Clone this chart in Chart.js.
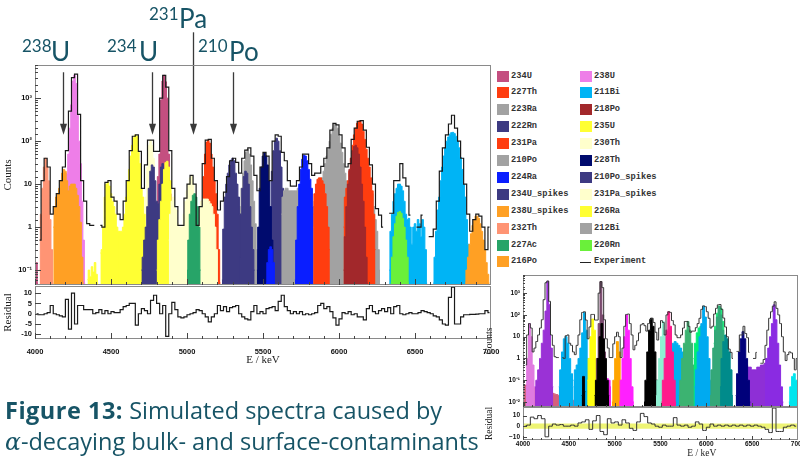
<!DOCTYPE html>
<html>
<head>
<meta charset="utf-8">
<script src="https://cdn.jsdelivr.net/npm/chart.js@4.4.1/dist/chart.umd.min.js"></script>
<style>
  body { margin: 0; width: 800px; height: 457px; overflow: hidden; background: #fff; position: relative; font-family: Lato, sans-serif; }
  canvas { position: absolute; }
  .iso { position: absolute; color: #175466; font-family: Lato, sans-serif; line-height: 1; white-space: nowrap; }
  .iso.big { font-size: 26px; }
  .iso.sup { font-size: 17px; }
  #legend div { position: absolute; font: bold 8.7px "Liberation Mono", monospace; color: #333; white-space: nowrap; }
  #legend .sw { width: 12px; height: 11px; }
  #caption { position: absolute; left: 5px; top: 395px; font-family: "Open Sans", sans-serif; font-size: 23.5px; line-height: 31px; color: #175466; white-space: nowrap; }
  #caption b { letter-spacing: 0.5px; }
</style>
</head>
<body>
<canvas id="main" width="495" height="293" style="left:0;top:0"></canvas>
<canvas id="resid" width="505" height="100" style="left:0;top:276px"></canvas>
<canvas id="insetMain" width="330" height="148" style="left:480px;top:267px"></canvas>
<canvas id="insetResid" width="330" height="58" style="left:480px;top:399px"></canvas>

<div class="iso sup" style="left:22px;top:37px">238</div><div class="iso big" style="left:51px;top:38px">U</div>
<div class="iso sup" style="left:107px;top:37px">234</div><div class="iso big" style="left:139px;top:38px">U</div>
<div class="iso sup" style="left:149px;top:5px">231</div><div class="iso big" style="left:179px;top:5px">Pa</div>
<div class="iso sup" style="left:198px;top:37px">210</div><div class="iso big" style="left:229px;top:38px">Po</div>

<div id="legend"></div>
<div id="caption"><b>Figure 13:</b> Simulated spectra caused by<br><i style="font-family:'DejaVu Serif',serif">α</i>-decaying bulk- and surface-contaminants</div>

<script>
// Legend entries (two columns, as in the ROOT legend)
const legendLeft = ['234U', '227Th', '223Ra', '222Rn', '231Pa', '210Po', '224Ra', '234U_spikes', '238U_spikes', '232Th', '227Ac', '216Po'];
const legendRight = ['238U', '211Bi', '218Po', '235U', '230Th', '228Th', '210Po_spikes', '231Pa_spikes', '226Ra', '212Bi', '220Rn'];

const palette = {
  '234U': '#c44f80', '227Th': '#ff3d0f', '223Ra': '#a2a2a2', '222Rn': '#3d3a82',
  '231Pa': '#ff3d0f', '210Po': '#a2a2a2', '224Ra': '#0a1eff', '234U_spikes': '#3d3a82',
  '238U_spikes': '#ffa024', '232Th': '#ff9474', '227Ac': '#27a468', '216Po': '#ffa024',
  '238U': '#ee7ee8', '211Bi': '#00b4f5', '218Po': '#a2282b', '235U': '#ffff33',
  '230Th': '#ffffcc', '228Th': '#000b6e', '210Po_spikes': '#3d3a82', '231Pa_spikes': '#ffffcc',
  '226Ra': '#ffff33', '212Bi': '#a2a2a2', '220Rn': '#6af03a',
};

// Simulated components, 10 keV bins (centre of first bin + counts), back to front
const compNames = ['234U', '232Th', '238U', '238U_spikes', '235U', '226Ra', '230Th', '235U', '234U', '234U_spikes', '226Ra',
  '231Pa', '230Th', '231Pa_spikes', '227Ac', '210Po', '210Po_spikes', '222Rn', '222Rn', '228Th', '224Ra',
  '223Ra', '224Ra', '223Ra', '227Th', '212Bi', '227Th', '218Po', '211Bi', '220Rn', '211Bi', '216Po'];
const compStart = [4000, 4030, 4200, 4120, 4345, 4430, 4690, 4550, 4800, 4700, 4800,
  5090, 5055, 4880, 5000, 5340, 5230, 5345, 5530, 5460, 5520,
  5620, 5710, 5830, 5830, 6150, 6030, 6030, 6330, 6340, 6620, 6830];
const compCounts = [
  [0.15, 0.15, 0.05],
  [0.1, 2, 8, 25, 40, 25, 12, 1.5, 0.3, 0.05],
  [5, 18, 50, 200, 700, 2500, 3400, 2200, 400, 100, 30, 4, 0.5, 0.05],
  [1, 3, 5, 6, 8, 12, 18, 22, 20, 12, 7, 9, 10, 10, 10, 8, 5.5, 3, 1.3, 0.2, 0.05],
  [0.06, 0.1, 0.07, 0.12, 0.09, 0.15, 0.08, 0.05],
  [0.25, 0.3, 1, 5, 10, 11, 9, 6, 4, 3, 2, 1, 0.8, 0.6, 0.5],
  [0.1, 0.2, 0.4, 1, 5, 25, 80, 105, 80, 40, 12, 4, 1.5, 0.8, 0.5, 0.4, 0.3, 0.3, 0.4, 0.6],
  [0.6, 0.8, 0.8, 1, 2, 5, 12, 22, 45, 80, 120, 138, 130, 55, 30, 8, 5, 2, 0.8, 0.3, 0.1],
  [2, 15, 50, 900, 2500, 3400, 2400, 1000, 50, 6, 0.5, 0.05],
  [0.1, 0.2, 0.5, 1, 3, 8, 20, 28, 25, 12, 4, 3.5, 10, 25, 30, 20, 8, 3, 1, 0.4, 0.2, 0.1],
  [0.1, 0.5, 1.5, 4, 10, 22, 32, 34, 25, 12, 4, 1.2, 0.3, 0.05],
  [0.5, 4, 15, 50, 95, 105, 90, 50, 25, 12, 6, 2, 0.3, 0.05],
  [0.5, 1, 2, 3, 4, 4.5, 4.5, 4.5, 4.5, 4, 3.5, 3, 2, 1, 0.3, 0.05],
  [0.5, 2, 4, 5, 2.8, 2.5, 1.2, 1, 1, 1, 2, 4, 7, 10, 14, 16, 10, 6, 1, 0.8, 1, 0.8],
  [0.1, 0.5, 2, 4, 5.5, 6, 5, 3, 1, 0.1],
  [1, 3, 8, 18, 35, 55, 65, 50, 28, 12, 4, 1.2, 0.3, 0.05],
  [0.06, 0.9, 5, 10, 18, 28, 36, 40, 35, 18, 10, 5, 2, 0.8, 0.3, 0.1, 0.05],
  [0.2, 2, 8, 15, 20, 18, 10, 3, 1, 0.3, 0.1],
  [0.06, 0.5, 3, 20, 60, 100, 117, 100, 60, 25, 8, 1.6, 0.3, 0.06],
  [0.1, 1, 8, 25, 45, 53, 45, 28, 12, 3, 0.5, 0.1],
  [0.05, 0.15, 0.3, 0.35, 0.3, 0.15, 0.05],
  [2, 5, 7, 8, 8, 7, 7, 7, 7, 7, 7, 8, 8, 6, 4, 2, 1, 0.5],
  [0.06, 0.5, 3, 10, 22, 38, 47, 45, 35, 22, 13, 8, 3, 1, 0.2, 0.05],
  [1, 4, 6, 7, 8, 10, 14, 20, 30, 45, 65, 100, 145, 200, 250, 245, 200, 130, 90, 55, 30, 18, 12, 8, 3, 0.5],
  [2, 6, 10, 13, 14, 14, 12, 10, 6, 3, 1, 0.3],
  [2, 5, 8, 10, 10, 10, 9, 6, 3, 1.5, 0.8, 0.3, 0.1],
  [1, 5, 8, 12, 20, 40, 80, 140, 200, 260, 290, 300, 250, 170, 110, 65, 40, 25, 14, 7, 2, 0.3],
  [0.1, 0.6, 3, 10, 22, 40, 60, 75, 80, 70, 50, 25, 10, 4, 1, 0.2, 0.05],
  [0.1, 0.8, 2, 4, 6, 8, 10, 10, 9, 7, 4, 2, 1.5, 1.6, 1, 0.4, 1, 1.2, 0.8, 1.5, 1.2, 0.6, 1.5, 1, 0.3, 0.05],
  [0.05, 0.2, 0.6, 1.2, 1.8, 2.2, 2.3, 2.1, 1.6, 1, 0.5, 0.2, 0.05],
  [0.05, 0.2, 0.8, 2.5, 5, 12, 25, 45, 70, 100, 125, 145, 158, 160, 150, 130, 100, 70, 42, 22, 10, 5, 1.5, 0.4, 0.1],
  [0.05, 0.1, 0.2, 0.4, 0.7, 1.1, 1.5, 1.8, 1.8, 1.6, 1.2, 0.8, 0.5, 0.3, 0.15, 0.08, 0.05],
];

// Measured spectrum, 20 keV bins from 4000 keV (first bin centre 4010)
const expStart = 4010;
const expCounts = [
  0, 0.5, 12, 40, 25, 2, 3, 6, 12, 25,
  60, 500, 3000, 3600, 420, 12, 4, 1.2, 1.1, 1.1,
  0, 1.1, 1, 11, 12, 5, 4, 2, 1.5, 4,
  12, 60, 130, 140, 58, 8, 28, 105, 105, 58,
  58, 1000, 3400, 1800, 60, 8, 3, 1.1, 1.1, 4.7,
  10, 16, 10, 1.1, 3, 30, 105, 110, 40, 12,
  2.5, 4, 6.5, 15, 35, 40, 32, 18, 40, 62,
  70, 45, 16, 7, 25, 55, 45, 12, 100, 140,
  130, 55, 35, 12, 9, 9, 12, 25, 50, 50,
  30, 16, 18, 18, 26, 40, 70, 180, 260, 240,
  140, 70, 25, 30, 110, 200, 290, 300, 180, 72,
  28, 10, 2.7, 1.9, 1, 0, 2.1, 2.1, 12, 12,
  30, 14, 9, 1.9, 0, 1, 1, 1.9, 0, 0.6,
  0.6, 0.9, 4, 20, 70, 140, 250, 400, 200, 100,
  40, 10, 2, 0.8, 1.5, 2, 1.8, 1, 0.3, 1,
];
const residMain = [
  0, -0.5, -0.5, 0, 0.5, 4, 0, -0.5, -1, -1.5,
  7, -7.5, 10, -5, 4, 4, 2, 2, 2, 0,
  0.5, 2, 0, 1.5, 0, 1, 0.5, 0.5, 2, 3.5,
  4, 5, 5, -5.5, 0, 2.5, 1.5, 0, 6.5, 9,
  5, 0, 4, -11, 0, 5.5, 2, -1.5, -2, -1.5,
  -0.5, 0, 0.5, 2, 1.5, 0, -1.5, -4, -1.5, 0,
  4, 1.5, 3.5, 1, 3, 3.5, 4, 0, -1.5, -2.5,
  -3, 1, 4, 0, 1, 0, 2.5, 3, 3.5, 1.5,
  6, 9, 3.5, 1.5, 0, 1, 0, 1, -0.5, 0,
  -0.5, 0, 0.5, 4, 5, 2.5, 3.5, 1, -2, -5.5,
  -2.5, 0.5, 0, 1, -0.5, 0, -1.5, -1.5, -3, 2.5,
  4, 1, 0, 1.5, 2.5, 1, 3, 0, 3.5, 4,
  0, -0.5, 0, 0.5, 0, 0, 0.5, 1.5, 1, 0.5,
  0, -1, -1.5, -3, -5, -5.5, 8, 13, -5, -5,
  -1.5, -0.5, -0.5, -0.3, -0.3, -0.2, 0, 0, 1.5, 0.5,
];

const energyTicks = [4000, 4500, 5000, 5500, 6000, 6500, 7000];
const residTicks = [-10, -5, 0, 5, 10];
const insetResidTicks = [-10, 0, 10];

// Arrows marking the lines (energy, top and tip in counts)
const arrowE = [4186, 4770, 5040, 5303];
const arrowTop = [4000, 4000, 34000, 4000];
const arrowTip = [140, 140, 140, 140];

// Second (smaller) fit, 20 keV bins, back to front
const insetColors = ['#d4607c', '#8e2fd6', '#00b0f0', '#e07ae0', '#9a32d6', '#00b0f0', '#00b0f0', '#f020f0', '#ffff10',
  '#000000', '#7a4a6e', '#000000', '#ffa500', '#ff20ff', '#000000', '#8ef0d2', '#ff1a8c', '#3cb371', '#00ee76',
  '#00aaf0', '#1ee67a', '#34a878', '#008b8b', '#00007a', '#8a2be2', '#00e5ee'];
const insetStart = [4010, 6440, 5600, 4030, 4130, 4390, 4550, 4720, 4700,
  4640, 4790, 4780, 4970, 5050, 5320, 5450, 5510, 5700, 5860,
  5870, 6080, 6040, 6150, 6320, 6640, 6900];
const insetCounts = [
  [0.06, 0.06, 0.055, 0.05, 0.05, 0.045, 0.045, 0.04, 0.04, 0.038, 0.035, 0.033, 0.03, 0.03, 0.028, 0.026, 0.025, 0.023,
    0.022, 0.02, 0.02, 0.018, 0.017, 0.016, 0.015, 0.014, 0.013, 0.012, 0.012, 0.011, 0.01, 0.01, 0.009, 0.009, 0.008],
  [0.5, 0.4, 0.4, 0.3, 0.3, 0.3, 0.4, 0.4, 0.5, 0.5, 0.6, 1],
  [1, 3, 5, 6, 5, 4, 3, 2, 1],
  [0.05, 1, 40, 10, 0.5, 0.05],
  [0.05, 0.1, 0.3, 1, 5, 20, 150, 3500, 300, 3, 0.05],
  [0.05, 0.3, 2, 8, 10, 5, 1, 0.2, 0.05],
  [0.1, 0.3, 0.5, 1, 3, 15, 130, 20, 1, 0.1],
  [0.02, 0.08, 0.1, 0.1, 0.08, 0.1, 0.15, 0.1, 0.08, 0.1, 0.12, 0.1, 0.05],
  [0.1, 1, 10, 65, 20, 1, 0.05],
  [0.02, 0.15, 0.03],
  [0.05, 1, 40, 3400, 100, 2, 0.05],
  [0.02, 0.1, 1, 10, 40, 8, 1, 0.1, 0.02],
  [0.01, 0.1, 1, 6, 2, 0.1, 0.01],
  [0.01, 0.1, 1, 10, 100, 20, 1, 0.05, 0.01],
  [0.01, 0.1, 2, 20, 70, 30, 2, 0.1, 0.01],
  [0.02, 0.1, 1, 10, 50, 20, 3, 0.5, 0.05],
  [0.01, 0.1, 1, 20, 140, 30, 2, 0.1, 0.01],
  [0.02, 0.1, 1, 5, 20, 50, 20, 5, 0.5, 0.05, 0.01],
  [1, 5, 15, 25, 30, 25, 10, 2],
  [0.05, 0.3, 2, 10, 40, 250, 80, 10, 1, 0.1, 0.01],
  [5, 30, 120, 250, 200, 50, 5],
  [0.02, 0.3, 3, 20, 80, 250, 100, 20, 2, 0.1, 0.01],
  [0.05, 1, 6, 12, 8, 2, 0.3, 0.02],
  [0.02, 0.2, 2, 8, 17, 8, 1, 0.1, 0.01],
  [0.5, 1, 3, 10, 40, 290, 60, 5, 0.5, 0.05, 0.01],
  [0.01, 0.05, 0.15, 0.2, 0.1, 0.02],
];
// Residual of the second fit, 40 keV bins from 4000 keV
const insetResidStart = 4020;
const insetResid = [
  0, 1, 8.5, 7, 10, 7, -10, 0, 2, 1,
  1.5, 0, 0, 1, 0, 3, 4, 6, -3, 5,
  10, -5, -8, 7, 3, 4, 1, 6, 3, -2,
  -4, 4, 12, 9, 3, 2, 0, -1, 1, 0,
  0, 8, 1, 0, 1, -1, 0, 4, 2, -4,
  -1, 2, 0, 1, 0, 1, 0, 1, 0, 1,
  0, 1, 0, 1, 0, -1, -3, -6, 17, -5,
  -5, -1, 0, 1, 0,
];
const insetBand = [2.5, -2.5];

const binXY = (start, step, counts) => counts.map((c, i) => ({ x: start + i * step, y: c }));

const powLabel = { '-2': '10⁻²', '-1': '10⁻¹', 0: '1', 1: '10', 2: '10²', 3: '10³' };
const logTick = (v) => {
  const l = Math.log10(v);
  const p = Math.round(l);
  return Math.abs(l - p) < 1e-6 && powLabel[p] !== undefined ? powLabel[p] : '';
};

// ROOT-like frame with inner tick marks
const rootFrame = {
  id: 'rootFrame',
  afterDraw(chart, args, opts) {
    const { ctx, chartArea: a, scales } = chart;
    ctx.save();
    ctx.strokeStyle = '#8a8a8a';
    ctx.lineWidth = 1;
    ctx.strokeRect(a.left + 0.5, a.top + 0.5, a.width - 1, a.height - 1);
    ctx.strokeStyle = '#444';
    ctx.beginPath();
    for (let e = 4000; e <= 7000; e += 100) {
      const x = Math.round(scales.x.getPixelForValue(e)) + 0.5;
      if (x > a.right) continue;
      const len = e % 500 === 0 ? opts.major : opts.minor;
      ctx.moveTo(x, a.bottom);
      ctx.lineTo(x, a.bottom - len);
    }
    scales.y.ticks.forEach((t) => {
      const y = Math.round(scales.y.getPixelForValue(t.value)) + 0.5;
      if (y < a.top || y > a.bottom) return;
      const len = t.label ? opts.major : opts.minor;
      ctx.moveTo(a.left, y);
      ctx.lineTo(a.left + len, y);
    });
    ctx.stroke();
    ctx.restore();
  },
};

// energy labels under the residual panels, placed with the x scale
const energyAxis = {
  id: 'energyAxis',
  afterDraw(chart, args, o) {
    const { ctx, chartArea: a, scales: { x } } = chart;
    ctx.save();
    ctx.fillStyle = '#111';
    ctx.textAlign = 'center';
    ctx.textBaseline = 'middle';
    ctx.font = o.font;
    energyTicks.forEach((v) => ctx.fillText(String(v), x.getPixelForValue(v), a.bottom + o.labelGap));
    ctx.fillStyle = '#222';
    ctx.font = o.titleFont;
    ctx.fillText('E / keV', a.left + a.width * o.titlePos, a.bottom + o.titleGap);
    ctx.restore();
  },
};

const arrows = {
  id: 'arrows',
  afterDatasetsDraw(chart) {
    const { ctx, scales } = chart;
    ctx.save();
    ctx.strokeStyle = '#3a3a3a';
    ctx.fillStyle = '#3a3a3a';
    ctx.lineWidth = 1.3;
    arrowE.forEach((e, i) => {
      const x = Math.round(scales.x.getPixelForValue(e)) + 0.5;
      const y1 = scales.y.getPixelForValue(arrowTop[i]);
      const y2 = scales.y.getPixelForValue(arrowTip[i]);
      ctx.beginPath();
      ctx.moveTo(x, y1);
      ctx.lineTo(x, y2 - 9);
      ctx.stroke();
      ctx.beginPath();
      ctx.moveTo(x - 3.5, y2 - 11);
      ctx.lineTo(x + 3.5, y2 - 11);
      ctx.lineTo(x, y2);
      ctx.closePath();
      ctx.fill();
    });
    ctx.restore();
  },
};

const tickFont = { family: 'Liberation Sans', size: 7.5, weight: 'bold' };
const titleFont = { family: 'Liberation Serif', size: 11 };
const smallTick = { family: 'Liberation Sans', size: 6.5, weight: 'bold' };
const smallTitle = { family: 'Liberation Serif', size: 9.5 };

const filled = (data, color, order) => ({
  data, backgroundColor: color, borderColor: color, borderWidth: 1,
  fill: 'start', stepped: 'middle', pointRadius: 0, order,
});
const stepLine = (data, color, width) => ({
  data, borderColor: color, borderWidth: width, fill: false, stepped: 'middle', pointRadius: 0, order: 0,
});
const xHidden = { type: 'linear', min: 4000, max: 7000, display: false };
const yBase = (width, font, titleText, tFont) => ({
  afterFit: (axis) => { axis.width = width; },
  grid: { display: false, drawTicks: false },
  border: { display: false },
  title: { display: true, text: titleText, font: tFont, color: '#222', padding: { top: width > 40 ? 4 : 2, bottom: 0 } },
});
const noPlugins = { legend: { display: false }, tooltip: { enabled: false } };

// ---- main spectrum
new Chart(document.getElementById('main'), {
  type: 'line',
  data: {
    datasets: [
      stepLine(binXY(expStart, 20, expCounts), '#1a1a1a', 1.2),
      ...compCounts.map((c, i) => filled(binXY(compStart[i], 10, c), palette[compNames[i]], compCounts.length - i + 1)),
    ],
  },
  options: {
    responsive: false,
    animation: false,
    layout: { padding: { top: 65, right: 4, bottom: 8, left: 0 } },
    scales: {
      x: xHidden,
      y: Object.assign(yBase(35, tickFont, 'Counts', titleFont), {
        type: 'logarithmic', min: 0.045, max: 5900,
        ticks: { autoSkip: false, padding: 3, font: tickFont, color: '#111', callback: logTick },
      }),
    },
    plugins: Object.assign({ rootFrame: { major: 6, minor: 3 } }, noPlugins),
  },
  plugins: [rootFrame, arrows],
});

// ---- main residual
new Chart(document.getElementById('resid'), {
  type: 'line',
  data: { datasets: [stepLine(binXY(expStart, 20, residMain), '#1a1a1a', 1.2)] },
  options: {
    responsive: false,
    animation: false,
    layout: { padding: { top: 10, right: 14, bottom: 37, left: 0 } },
    scales: {
      x: xHidden,
      y: Object.assign(yBase(35, tickFont, 'Residual', titleFont), {
        type: 'linear', min: -12.3, max: 13.5,
        afterBuildTicks: (axis) => { axis.ticks = residTicks.map((v) => ({ value: v })); },
        ticks: { autoSkip: false, padding: 3, font: tickFont, color: '#111', callback: (v) => String(v) },
      }),
    },
    plugins: Object.assign({
      rootFrame: { major: 6, minor: 3 },
      energyAxis: { font: 'bold 7.5px "Liberation Sans"', titleFont: '11px "Liberation Serif"', labelGap: 13, titleGap: 21.5, titlePos: 0.5 },
    }, noPlugins),
  },
  plugins: [rootFrame, energyAxis],
});

// ---- inset: second fit
new Chart(document.getElementById('insetMain'), {
  type: 'line',
  data: {
    datasets: [
      stepLine(binXY(expStart, 20, expCounts), '#333', 1),
      ...insetCounts.map((c, i) => filled(binXY(insetStart[i], 20, c), insetColors[i], insetCounts.length - i + 1)),
    ],
  },
  options: {
    responsive: false,
    animation: false,
    layout: { padding: { top: 8, right: 12, bottom: 8, left: 0 } },
    scales: {
      x: xHidden,
      y: Object.assign(yBase(43, smallTick, 'Counts', smallTitle), {
        type: 'logarithmic', min: 0.0059, max: 6800,
        ticks: { autoSkip: false, padding: 3, font: smallTick, color: '#111', callback: logTick },
      }),
    },
    plugins: Object.assign({ rootFrame: { major: 4, minor: 2 } }, noPlugins),
  },
  plugins: [rootFrame],
});

new Chart(document.getElementById('insetResid'), {
  type: 'line',
  data: {
    datasets: [
      stepLine(binXY(insetResidStart, 40, insetResid), '#333', 1),
      {
        data: [{ x: 4000, y: insetBand[0] }, { x: 7000, y: insetBand[0] }],
        backgroundColor: 'rgba(232,240,70,0.75)', borderColor: 'rgba(0,0,0,0)', borderWidth: 0,
        fill: { value: insetBand[1] }, pointRadius: 0, order: 2,
      },
    ],
  },
  options: {
    responsive: false,
    animation: false,
    layout: { padding: { top: 8, right: 12, bottom: 17, left: 0 } },
    scales: {
      x: xHidden,
      y: Object.assign(yBase(43, smallTick, 'Residual', smallTitle), {
        type: 'linear', min: -13, max: 18,
        afterBuildTicks: (axis) => { axis.ticks = insetResidTicks.map((v) => ({ value: v })); },
        ticks: { autoSkip: false, padding: 3, font: smallTick, color: '#111', callback: (v) => String(v).replace('-', '−') },
      }),
    },
    plugins: Object.assign({
      rootFrame: { major: 4, minor: 2 },
      energyAxis: { font: 'bold 6.5px "Liberation Sans"', titleFont: '9.5px "Liberation Serif"', labelGap: 4.5, titleGap: 13, titlePos: 0.65 },
    }, noPlugins),
  },
  plugins: [rootFrame, energyAxis],
});

// ---- legend
const legend = document.getElementById('legend');
const addItem = (name, col, row) => {
  const y = 76 + row * 16.9;
  const sx = col === 0 ? 497 : 580;
  const sw = document.createElement('div');
  sw.className = 'sw';
  sw.style.cssText = `left:${sx}px;top:${y - 5.5}px;background:${palette[name]}`;
  legend.appendChild(sw);
  const t = document.createElement('div');
  t.textContent = name;
  t.style.cssText = `left:${sx + 14}px;top:${y - 5.5}px`;
  legend.appendChild(t);
};
legendLeft.forEach((n, i) => addItem(n, 0, i));
legendRight.forEach((n, i) => addItem(n, 1, i));
const ey = 76 + 11 * 16.9;
const ln = document.createElement('div');
ln.style.cssText = `left:580px;top:${ey}px;width:11px;height:1px;background:#222`;
legend.appendChild(ln);
const et = document.createElement('div');
et.textContent = 'Experiment';
et.style.cssText = `left:594px;top:${ey - 5.5}px`;
legend.appendChild(et);
</script>
</body>
</html>
